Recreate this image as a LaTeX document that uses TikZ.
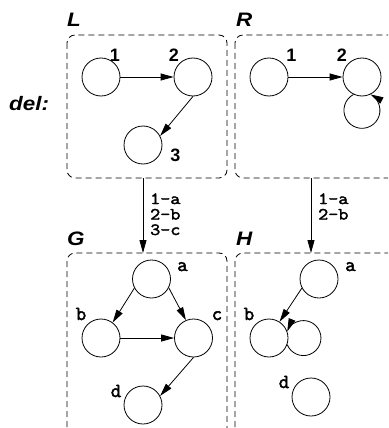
\documentclass[tikz,border=0pt]{standalone}
\usepackage{fontspec}
\setmainfont{Liberation Sans}
\newfontfamily\ttlfont[FakeStretch=1.15]{Liberation Sans}
\newfontfamily\courb[FakeBold=2.5]{Latin Modern Mono}
\newfontfamily\courm[FakeBold=2.5,FakeStretch=1.15]{Latin Modern Mono}
\usetikzlibrary{arrows.meta}
\tikzset{
  vtx/.style={circle, draw, line width=0.8pt, minimum size=38pt, inner sep=0pt},
  arr/.style={-{Triangle[length=13pt,width=7pt]}, line width=0.8pt},
  box/.style={draw, line width=0.8pt, dash pattern=on 6pt off 4pt, rounded corners=8pt},
  ttl/.style={anchor=base west, inner sep=0pt, font=\ttlfont\bfseries\itshape\fontsize{19.5}{20}\selectfont},
  numlab/.style={anchor=base, inner sep=0pt, font=\bfseries\fontsize{18}{18}\selectfont},
  letlab/.style={anchor=base, inner sep=0pt, font=\courb\fontsize{20}{20}\selectfont},
  maplab/.style={anchor=base west, inner sep=0pt, font=\courm\fontsize{17}{17}\selectfont}
}
\begin{document}
\begin{tikzpicture}[x=1pt,y=1pt]
\useasboundingbox (0,0) rectangle (388,-428);
\clip (0,0) rectangle (388,-428);
% boxes
\draw[box] (67,-35) rectangle (227,-178);
\draw[box] (235,-35) rectangle (420,-178);
\draw[box] (67,-253) rectangle (227,-470);
\draw[box] (235,-253) rectangle (420,-470);
\coordinate (Lb) at (143,-178);
\coordinate (Gt) at (143,-253);
\coordinate (Rb) at (311,-178);
\coordinate (Ht) at (311,-253);
% titles
\node[ttl] (tL) at (67,-27) {L};
\node[ttl] (tR) at (236,-27) {R};
\node[ttl] (tG) at (67,-245) {G};
\node[ttl] (tH) at (236,-245) {H};
\node[ttl] (del) at (9,-110) {del:};
% L graph
\node[vtx] (l1) at (101,-77) {};
\node[vtx] (l2) at (193,-77) {};
\node[vtx] (l3) at (143,-145) {};
\node[numlab] (n1) at (115,-61) {1};
\node[numlab] (n2) at (174,-61) {2};
\node[numlab] (n3) at (175.5,-161) {3};
\draw[arr] (l1) -- (l2);
\draw[arr] (l2.south) -- (l3.28);
% R graph
\node[vtx] (r1) at (269,-77) {};
\node[vtx] (r2) at (362,-77) {};
\node[numlab] (rn1) at (291.5,-61) {1};
\node[numlab] (rn2) at (342,-61) {2};
\draw[arr] (r1) -- (r2);
\draw[arr] (r2.244) arc[start angle=118, end angle=422, radius=18pt];
% G graph
\node[vtx] (ga) at (151.5,-279) {};
\node[vtx] (gb) at (101,-338) {};
\node[vtx] (gc) at (193.5,-338) {};
\node[vtx] (gd) at (143,-405) {};
\node[letlab] (la) at (182.5,-271) {a};
\node[letlab] (lb) at (81,-320) {b};
\node[letlab] (lc) at (217,-320) {c};
\node[letlab] (ld) at (116,-397) {d};
\draw[arr] (ga.208) -- (gb.53);
\draw[arr] (ga.333) -- (gc.113);
\draw[arr] (gb) -- (gc);
\draw[arr] (gc.south) -- (gd.28);
% H graph
\node[vtx] (ha) at (319,-279) {};
\node[vtx] (hb) at (269,-338) {};
\node[vtx] (hd) at (311,-397) {};
\node[letlab] (ha2) at (350.5,-271) {a};
\node[letlab] (hb2) at (249,-320) {b};
\node[letlab] (hd2) at (284,-388) {d};
\draw[arr] (ha.208) -- (hb.57);
\draw[arr] (hb.-20) arc[start angle=-158, end angle=158, radius=17.5pt];
% morphisms
\draw[arr] (Lb) -- (Gt);
\draw[arr] (Rb) -- (Ht);
\node[maplab] (m1) at (150,-204) {1-a};
\node[maplab] (m2) at (150,-219.5) {2-b};
\node[maplab] (m3) at (150,-235) {3-c};
\node[maplab] (k1) at (318,-204) {1-a};
\node[maplab] (k2) at (318,-219.5) {2-b};
\end{tikzpicture}
\end{document}
